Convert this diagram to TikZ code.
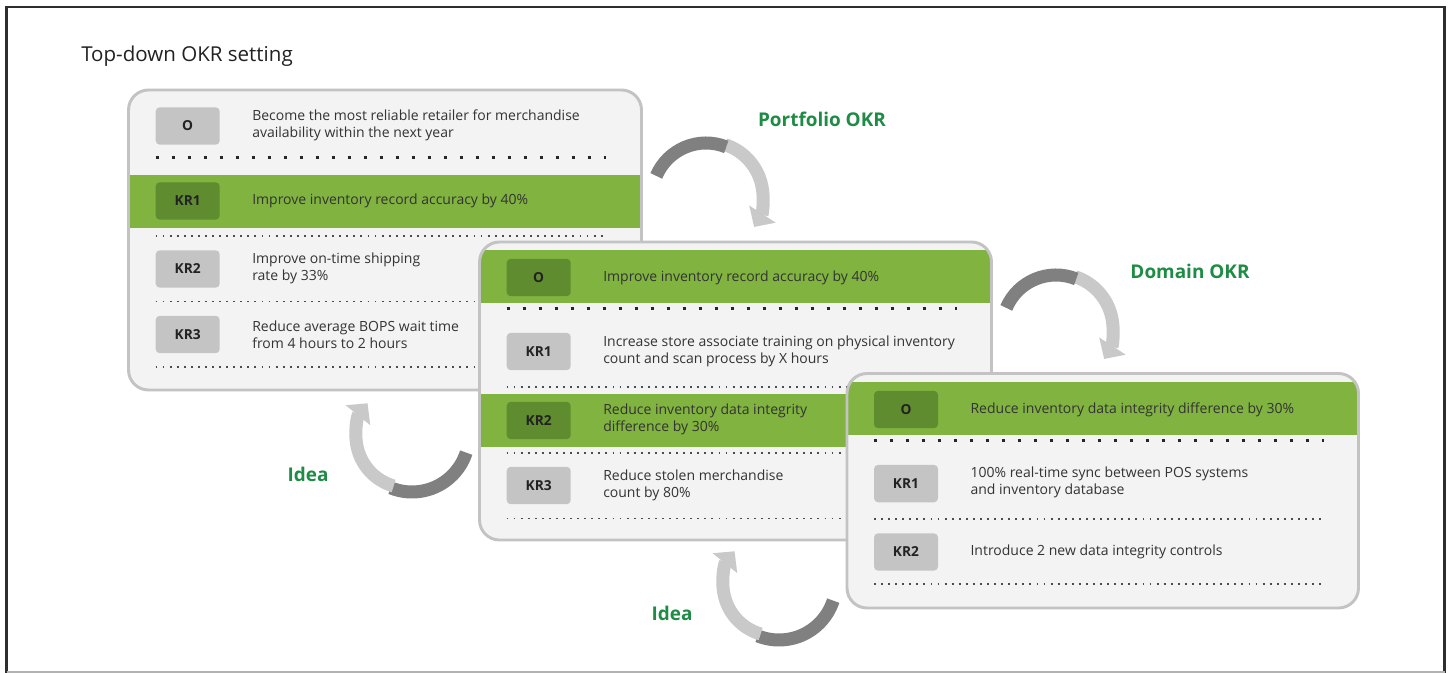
\documentclass[tikz,border=0pt]{standalone}
\usepackage{fontspec}
\setmainfont{Open Sans}
\usetikzlibrary{arrows.meta}

\definecolor{cardfill}{HTML}{F3F3F3}
\definecolor{cardline}{HTML}{C3C3C3}
\definecolor{band}{HTML}{80B33F}
\definecolor{bandbox}{HTML}{5F8C2F}
\definecolor{tagbox}{HTML}{C4C4C4}
\definecolor{ink}{HTML}{333333}
\definecolor{tagink}{HTML}{222222}
\definecolor{frameink}{HTML}{2E2E2E}
\definecolor{okrgreen}{HTML}{1E8C45}
\definecolor{arrowdark}{HTML}{808080}
\definecolor{arrowlight}{HTML}{C9C9C9}

\tikzset{
  cardborder/.style={draw=cardline, line width=2.2pt, rounded corners=15pt},
  cardshape/.style={rounded corners=15pt},
  tag/.style={fill=tagbox, rounded corners=3pt, minimum width=48pt,
    minimum height=28pt, inner sep=0pt, text=tagink, font=\bfseries\fontsize{10.3}{12}\selectfont},
  greentag/.style={tag, fill=bandbox},
  desc/.style={anchor=west, align=left, inner sep=0pt, text=ink,
    font=\fontsize{10.5}{12.75}\selectfont},
  bigdots/.style={line width=2.4pt, dash pattern=on 2.4pt off 9.6pt, draw=black!85},
  smalldots/.style={line width=1.4pt, dash pattern=on 1.4pt off 3.9pt, draw=black!70},
  levellabel/.style={text=okrgreen, font=\bfseries\fontsize{14.2}{16}\selectfont, inner sep=0pt},
  darkband/.style={draw=arrowdark, line width=9.75pt},
  lightband/.style={draw=arrowlight, line width=9.75pt, -{Triangle[width=23pt,length=11.5pt]}}
}

\begin{document}
\begin{tikzpicture}[x=0.75pt,y=-0.75pt]
\useasboundingbox (0,0) rectangle (1449,673);
\fill[white] (0,0) rectangle (1449,673);

% outer frame
\draw[frameink, line width=1.7pt] (6.5,673) -- (6.5,7) -- (1444.5,7) -- (1444.5,673);
\draw[black!30, line width=1.5pt] (6.5,672) -- (1444.5,672);

% title
\node[anchor=base west, inner sep=0pt, text=tagink, font=\fontsize{15.4}{18}\selectfont]
  (title) at (81,62) {Top-down OKR setting};

% ---------- portfolio card ----------
\begin{scope}
  \clip[cardshape] (128.5,90) rectangle (641.5,390);
  \fill[cardfill] (128.5,90) rectangle (641.5,390);
  \fill[band] (120,175) rectangle (650,228);
\end{scope}
\draw[cardborder] (128.5,90) rectangle (641.5,390);
\draw[bigdots] (155.5,157.5) -- (606,157.5);
\draw[smalldots] (155.5,236) -- (606,236);
\draw[smalldots] (155.5,301.5) -- (606,301.5);
\draw[smalldots] (155.5,367) -- (606,367);
\node[tag] (pO) at (187.7,126) {O};
\node[greentag] (pK1) at (187.7,201) {KR1};
\node[tag] (pK2) at (187.7,269) {KR2};
\node[tag] (pK3) at (187.7,334.5) {KR3};
\node[desc] (pOt) at (252,125) {Become the most reliable retailer for merchandise\\availability within the next year};
\node[desc] (pK1t) at (252,201) {Improve inventory record accuracy by 40\%};
\node[desc] (pK2t) at (252,268) {Improve on-time shipping\\rate by 33\%};
\node[desc] (pK3t) at (252,335) {Reduce average BOPS wait time\\from 4 hours to 2 hours};

% ---------- domain card ----------
\begin{scope}
  \clip[cardshape] (479.5,242) rectangle (991.5,540);
  \fill[cardfill] (479.5,242) rectangle (991.5,540);
  \fill[band] (470,250) rectangle (1000,303);
  \fill[band] (470,394) rectangle (1000,447);
\end{scope}
\draw[cardborder] (479.5,242) rectangle (991.5,540);
\draw[bigdots] (506.5,308.5) -- (957,308.5);
\draw[smalldots] (506.5,387) -- (957,387);
\draw[smalldots] (506.5,453) -- (957,453);
\draw[smalldots] (506.5,518.5) -- (957,518.5);
\node[greentag] (dO) at (538.7,277.5) {O};
\node[tag] (dK1) at (538.7,351.5) {KR1};
\node[greentag] (dK2) at (538.7,420.5) {KR2};
\node[tag] (dK3) at (538.7,485.5) {KR3};
\node[desc] (dOt) at (603,277.5) {Improve inventory record accuracy by 40\%};
\node[desc] (dK1t) at (603,351.5) {Increase store associate training on physical inventory\\count and scan process by X hours};
\node[desc] (dK2t) at (603,419.5) {Reduce inventory data integrity\\difference by 30\%};
\node[desc] (dK3t) at (603,485) {Reduce stolen merchandise\\count by 80\%};

% ---------- team card ----------
\begin{scope}
  \clip[cardshape] (847,373.5) rectangle (1358.5,608);
  \fill[cardfill] (847,373.5) rectangle (1358.5,608);
  \fill[band] (840,382) rectangle (1370,434.7);
\end{scope}
\draw[cardborder] (847,373.5) rectangle (1358.5,608);
\draw[bigdots] (874,440.8) -- (1324,440.8);
\draw[smalldots] (874,519) -- (1324,519);
\draw[smalldots] (874,584) -- (1324,584);
\node[greentag] (tO) at (906,409.5) {O};
\node[tag] (tK1) at (906,483.6) {KR1};
\node[tag] (tK2) at (906,552) {KR2};
\node[desc] (tOt) at (970.3,409.5) {Reduce inventory data integrity difference by 30\%};
\node[desc] (tK1t) at (970.3,482.5) {100\% real-time sync between POS systems\\and inventory database};
\node[desc] (tK2t) at (970.3,552) {Introduce 2 new data integrity controls};

% ---------- level labels ----------
\node[levellabel] (lPortfolio) at (822,119) {Portfolio OKR};
\node[levellabel] (lDomain) at (1190,271) {Domain OKR};
\node[levellabel] (lIdea1) at (308,474) {Idea};
\node[levellabel] (lIdea2) at (672,613) {Idea};

% ---------- curved arrows (downwards: cascading OKRs) ----------
\foreach \dx/\dy in {0/0, 350/132}{
  \begin{scope}[shift={(\dx,\dy)}]
    \draw[lightband] (708,197) ++(288:55) arc[start angle=288, end angle=393, radius=55];
    \draw[darkband] (706,197) ++(203:54) arc[start angle=203, end angle=292, radius=54];
  \end{scope}
}

% ---------- curved arrows (upwards: ideas) ----------
\foreach \dx/\dy in {0/0, 367/148}{
  \begin{scope}[shift={(\dx,\dy)}]
    \draw[darkband] (412,435) ++(18:57) arc[start angle=18, end angle=112, radius=57];
    \draw[lightband] (408,436) ++(106:52) arc[start angle=106, end angle=219, radius=52];
  \end{scope}
}
\end{tikzpicture}
\end{document}
